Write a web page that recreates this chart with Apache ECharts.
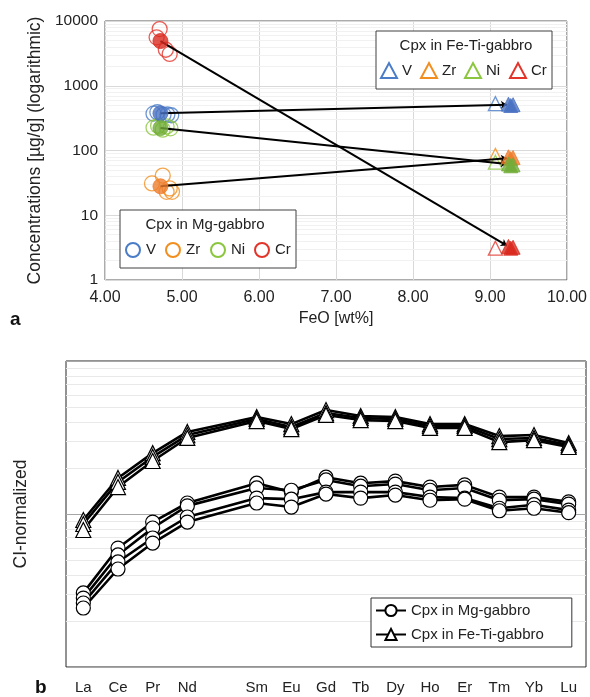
<!DOCTYPE html>
<html>
<head>
<meta charset="utf-8">
<script src="https://cdn.jsdelivr.net/npm/echarts@6/dist/echarts.min.js"></script>
<style>
  html, body { margin: 0; padding: 0; background: #fff; }
  #main { width: 590px; height: 697px; }
</style>
</head>
<body>
<div id="main"></div>
<script>
  // ---- panel a: Cpx trace elements vs FeO ----
  // Mg-gabbro single analyses
  var mgVFeO = [4.63, 4.68, 4.76, 4.81, 4.86];
  var mgV = [370, 390, 355, 360, 350];
  var mgNiFeO = [4.63, 4.69, 4.75, 4.80, 4.85];
  var mgNi = [225, 240, 210, 235, 220];
  var mgZrFeO = [4.61, 4.75, 4.80, 4.84, 4.87];
  var mgZr = [31, 41, 23, 26, 23];
  var mgCrFeO = [4.67, 4.71, 4.79, 4.84];
  var mgCr = [5600, 7500, 3600, 3100];
  // Mg-gabbro means
  var mgMeanFeO = 4.72;
  var mgMean = { V: 375, Zr: 28, Ni: 222, Cr: 4900 };

  // Fe-Ti-gabbro single analyses (open) and cluster (filled)
  var feOpenFeO = 9.07;
  var feOpen = { V: 530, Zr: 84, Ni: 66, Cr: 3.1 };
  var feFeO = [9.24, 9.27, 9.30];
  var feV = [520, 495, 510];
  var feZr = [80, 75, 78];
  var feNi = [62, 58, 60];
  var feCr = [3.3, 3.1, 3.2];
  var feMeanFeO = 9.22;
  var feMean = { V: 510, Zr: 76, Ni: 62, Cr: 3.4 };

  var elements = ['V', 'Zr', 'Ni', 'Cr'];
  var colOpen = { V: '#4a7cc7', Zr: '#f28e1e', Ni: '#8cc63f', Cr: '#e3342a' };
  var colFill = { V: '#4a72c2', Zr: '#ee7d2d', Ni: '#72ad3a', Cr: '#d92b1f' };

  // ---- panel b: CI-normalized REE ----
  var ree = ['La', 'Ce', 'Pr', 'Nd', 'Pm', 'Sm', 'Eu', 'Gd', 'Tb', 'Dy', 'Ho', 'Er', 'Tm', 'Yb', 'Lu'];
  var mgA = [3.05, 5.99, 8.86, 11.8, null, 15.9, 13.9, 17.4, 15.9, 16.4, 15.0, 15.5, 12.9, 12.9, 12.0];
  var mgB = [2.82, 5.40, 8.10, 11.3, null, 14.8, 14.3, 16.7, 15.2, 15.7, 14.3, 14.8, 12.3, 12.5, 11.6];
  var mgC = [2.62, 4.86, 6.97, 9.56, null, 12.7, 12.5, 13.9, 13.9, 13.9, 12.9, 12.7, 10.9, 11.5, 10.6];
  var mgD = [2.43, 4.37, 6.46, 8.86, null, 11.8, 11.1, 13.5, 12.7, 13.3, 12.3, 12.5, 10.5, 10.9, 10.2];
  var feA = [9.14, 17.2, 25.0, 34.4, null, 43.0, 38.7, 47.8, 43.7, 43.0, 38.7, 38.7, 32.3, 32.8, 29.1];
  var feB = [8.60, 16.2, 23.6, 32.8, null, 41.8, 37.0, 45.7, 42.4, 41.8, 37.6, 37.6, 30.9, 31.4, 28.2];
  var feC = [7.86, 15.0, 22.2, 31.4, null, 40.5, 35.9, 44.4, 41.1, 40.5, 36.5, 36.5, 29.5, 30.4, 27.4];

  // minor log grid values
  var minorA = [2,3,4,5,6,7,8,9,20,30,40,50,60,70,80,90,200,300,400,500,600,700,800,900,2000,3000,4000,5000,6000,7000,8000,9000];
  var minorB = [2,3,4,5,6,7,8,9,20,30,40,50,60,70,80,90];

  var FONT = 'Liberation Sans, Arial, sans-serif';

  function zip(xs, ys) {
    return xs.map(function (x, i) { return [x, ys[i]]; });
  }

  function gridSeries(xi, vals, color) {
    return {
      type: 'line', xAxisIndex: xi, yAxisIndex: xi, data: [], z: 0, silent: true,
      markLine: {
        z: 0, silent: true, symbol: 'none', label: { show: false }, animation: false,
        lineStyle: { color: color, width: 1, type: 'solid' },
        emphasis: { disabled: true },
        data: vals.map(function (v) { return { yAxis: v }; })
      }
    };
  }

  var series = [];
  series.push(gridSeries(0, minorA, '#f1f1f1'));
  series.push(gridSeries(1, minorB, '#e9e9e9'));

  // connecting lines between means
  series.push({
    type: 'lines', coordinateSystem: 'cartesian2d', xAxisIndex: 0, yAxisIndex: 0, z: 3,
    symbol: ['none', 'arrow'], symbolSize: 6,
    lineStyle: { color: '#000', width: 2, opacity: 1 },
    data: elements.map(function (e) {
      return { coords: [[mgMeanFeO, mgMean[e]], [feMeanFeO, feMean[e]]] };
    })
  });

  var mgPts = { V: zip(mgVFeO, mgV), Zr: zip(mgZrFeO, mgZr), Ni: zip(mgNiFeO, mgNi), Cr: zip(mgCrFeO, mgCr) };
  var fePts = { V: zip(feFeO, feV), Zr: zip(feFeO, feZr), Ni: zip(feFeO, feNi), Cr: zip(feFeO, feCr) };

  elements.forEach(function (e) {
    series.push({
      type: 'scatter', xAxisIndex: 0, yAxisIndex: 0, z: 2, symbol: 'circle', symbolSize: 15,
      itemStyle: { color: 'rgba(255,255,255,0)', borderColor: colOpen[e], borderWidth: 1.3 },
      data: mgPts[e]
    });
    series.push({
      type: 'scatter', xAxisIndex: 0, yAxisIndex: 0, z: 4, symbol: 'circle', symbolSize: 15,
      itemStyle: { color: colFill[e], borderColor: colFill[e], borderWidth: 1 },
      data: [[mgMeanFeO, mgMean[e]]]
    });
    series.push({
      type: 'scatter', xAxisIndex: 0, yAxisIndex: 0, z: 2, symbol: 'triangle', symbolSize: 14,
      itemStyle: { color: 'rgba(255,255,255,0)', borderColor: colOpen[e], borderWidth: 1.3 },
      data: [[feOpenFeO, feOpen[e]]]
    });
    series.push({
      type: 'scatter', xAxisIndex: 0, yAxisIndex: 0, z: 4, symbol: 'triangle', symbolSize: 14,
      itemStyle: { color: colFill[e], borderColor: colFill[e], borderWidth: 1 },
      data: fePts[e]
    });
  });

  function reeSeries(name, data, symbol, size) {
    return {
      name: name, type: 'line', xAxisIndex: 1, yAxisIndex: 1, data: data,
      symbol: symbol, symbolSize: size, showAllSymbol: true, connectNulls: true, z: 5,
      lineStyle: { color: '#000', width: 2.6 },
      itemStyle: { color: '#fff', borderColor: '#000', borderWidth: 1.2 }
    };
  }
  [mgA, mgB, mgC, mgD].forEach(function (d) {
    series.push(reeSeries('Cpx in Mg-gabbro', d, 'circle', 14));
  });
  [feA, feB, feC].forEach(function (d) {
    series.push(reeSeries('Cpx in Fe-Ti-gabbro', d, 'triangle', 15));
  });

  // legend graphics for panel a
  var graphics = [];
  function boxLegend(x, y, w, h, title, titleX, items, shape) {
    graphics.push({ type: 'rect', shape: { x: x, y: y, width: w, height: h },
      style: { fill: '#fff', stroke: '#404040', lineWidth: 1 }, z: 10 });
    graphics.push({ type: 'text', z: 11, style: { text: title, x: titleX, y: y + 15, font: '15px ' + FONT,
      fill: '#222', textAlign: 'center', textVerticalAlign: 'middle' } });
    items.forEach(function (it) {
      var cy = y + 40;
      if (shape === 'circle') {
        graphics.push({ type: 'circle', z: 11, shape: { cx: it.cx, cy: cy, r: 7 },
          style: { fill: 'none', stroke: colOpen[it.e], lineWidth: 2 } });
      } else {
        graphics.push({ type: 'polygon', z: 11,
          shape: { points: [[it.cx - 8, cy + 7], [it.cx + 8, cy + 7], [it.cx, cy - 8]] },
          style: { fill: 'none', stroke: colOpen[it.e], lineWidth: 2 } });
      }
      graphics.push({ type: 'text', z: 11, style: { text: it.e, x: it.tx, y: cy, font: '15px ' + FONT,
        fill: '#222', textAlign: 'left', textVerticalAlign: 'middle' } });
    });
  }
  boxLegend(376, 31, 176, 58, 'Cpx in Fe-Ti-gabbro', 466, [
    { e: 'V', cx: 389, tx: 402 }, { e: 'Zr', cx: 429, tx: 442 },
    { e: 'Ni', cx: 473, tx: 486 }, { e: 'Cr', cx: 518, tx: 531 }
  ], 'triangle');
  boxLegend(120, 210, 176, 58, 'Cpx in Mg-gabbro', 205, [
    { e: 'V', cx: 133, tx: 146 }, { e: 'Zr', cx: 173, tx: 186 },
    { e: 'Ni', cx: 218, tx: 231 }, { e: 'Cr', cx: 262, tx: 275 }
  ], 'circle');
  graphics.push({ type: 'text', style: { text: 'a', x: 10, y: 320, font: 'bold 19px ' + FONT,
    fill: '#111', textVerticalAlign: 'middle' } });
  graphics.push({ type: 'text', style: { text: 'b', x: 35, y: 688, font: 'bold 19px ' + FONT,
    fill: '#111', textVerticalAlign: 'middle' } });

  var chart = echarts.init(document.getElementById('main'));
  chart.setOption({
    animation: false,
    backgroundColor: '#fff',
    textStyle: { fontFamily: FONT },
    grid: [
      { left: 105, top: 21, width: 463, height: 259, show: true, borderColor: '#595959', borderWidth: 1 },
      { left: 66, top: 361, width: 520, height: 306, show: true, borderColor: '#262626', borderWidth: 1 }
    ],
    legend: {
      orient: 'vertical', left: 371, top: 598, itemWidth: 30, itemHeight: 14, itemGap: 9,
      data: ['Cpx in Mg-gabbro', 'Cpx in Fe-Ti-gabbro'],
      borderColor: '#333', borderWidth: 1, padding: [5, 28, 5, 4], backgroundColor: '#fff',
      textStyle: { fontSize: 15, color: '#222', fontFamily: FONT },
      selectedMode: false
    },
    xAxis: [
      {
        type: 'value', gridIndex: 0, min: 4, max: 10, interval: 1,
        name: 'FeO [wt%]', nameLocation: 'middle', nameGap: 31,
        nameTextStyle: { fontSize: 16, color: '#222' },
        axisLine: { show: false }, axisTick: { show: false },
        axisLabel: { fontSize: 16, color: '#222', margin: 10, formatter: function (v) { return v.toFixed(2); } },
        splitLine: { show: true, lineStyle: { color: '#d9d9d9' } }
      },
      {
        type: 'category', gridIndex: 1, data: ree, boundaryGap: true,
        axisLine: { show: false }, axisTick: { show: false },
        axisLabel: { fontSize: 15, color: '#222', margin: 13, interval: 0,
          formatter: function (v) { return v === 'Pm' ? '' : v; } },
        splitLine: { show: false }
      }
    ],
    yAxis: [
      {
        type: 'log', gridIndex: 0, min: 1, max: 10000, logBase: 10,
        name: 'Concentrations [µg/g] (logarithmic)', nameLocation: 'middle', nameGap: 58,
        nameTextStyle: { fontSize: 17.5, color: '#222' },
        axisLine: { show: false }, axisTick: { show: false },
        axisLabel: { fontSize: 15.5, color: '#222', margin: 7, formatter: function (v) { return String(Math.round(v)); } },
        splitLine: { show: true, lineStyle: { color: '#d9d9d9' } }
      },
      {
        type: 'log', gridIndex: 1, min: 1, max: 100, logBase: 10,
        name: 'CI-normalized', nameLocation: 'middle', nameGap: 36,
        nameTextStyle: { fontSize: 17.5, color: '#222' },
        axisLine: { show: false }, axisTick: { show: false },
        axisLabel: { show: false },
        splitLine: { show: true, lineStyle: { color: '#a6a6a6' } }
      }
    ],
    graphic: graphics,
    series: series
  });
</script>
</body>
</html>
